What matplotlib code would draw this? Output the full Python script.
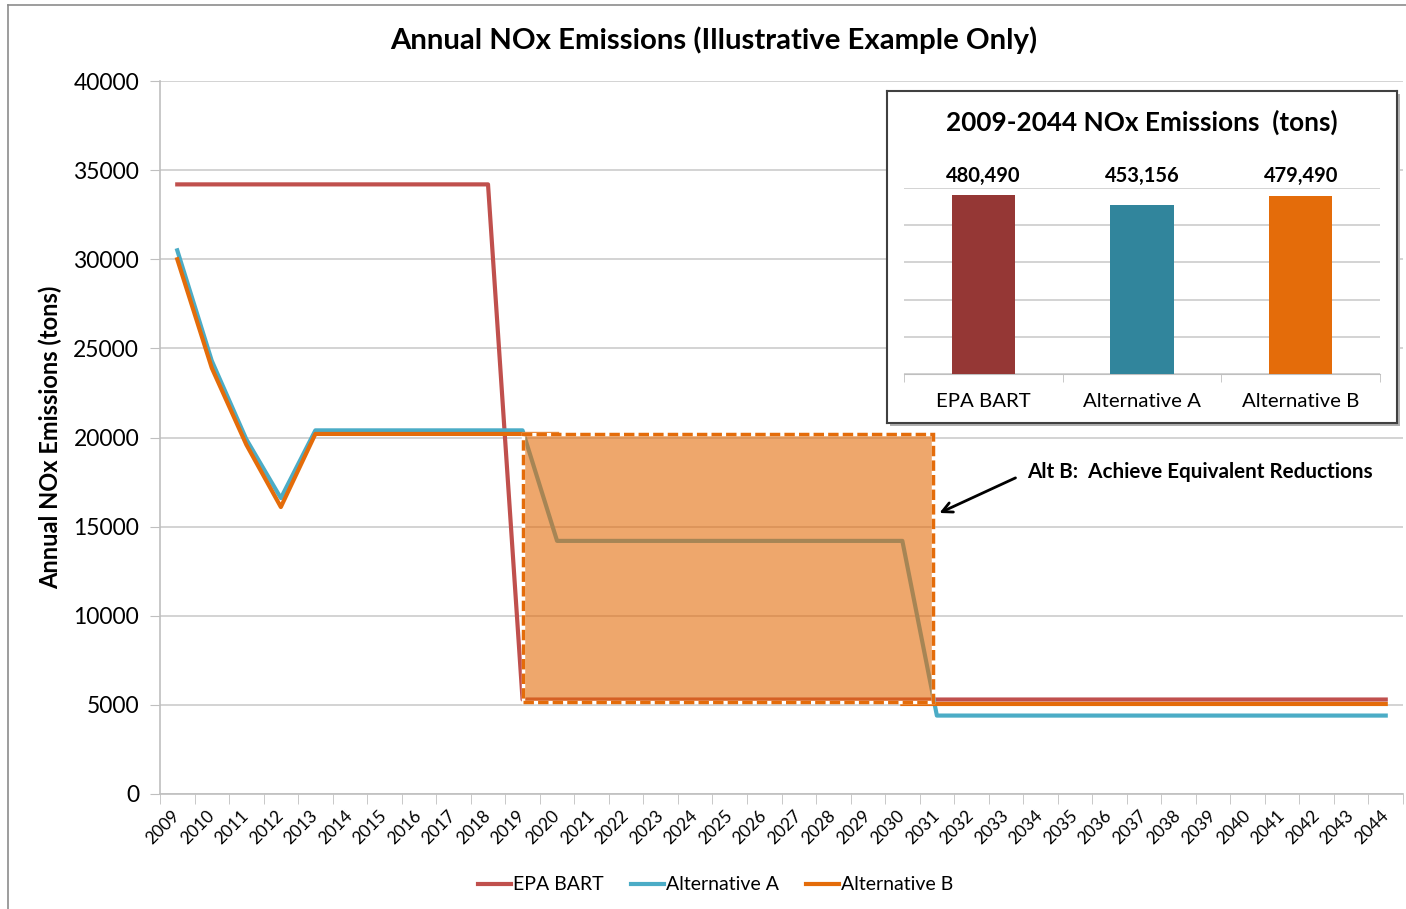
import numpy as np
import matplotlib
matplotlib.use("Agg")
import matplotlib.pyplot as plt
from matplotlib.patches import Rectangle
from matplotlib.lines import Line2D

plt.rcParams['font.family'] = ['Lato', 'DejaVu Sans']

# ---------------- data ----------------
years = [str(y) for y in range(2009, 2045)]

epa_bart = [34200, 34200, 34200, 34200, 34200, 34200, 34200, 34200, 34200, 34200,
            5300, 5300, 5300, 5300, 5300, 5300, 5300, 5300, 5300, 5300,
            5300, 5300, 5300, 5300, 5300, 5300, 5300, 5300, 5300, 5300,
            5300, 5300, 5300, 5300, 5300, 5300]

alt_a = [30500, 24300, 19900, 16600,
         20400, 20400, 20400, 20400, 20400, 20400, 20400,
         14200, 14200, 14200, 14200, 14200, 14200, 14200, 14200, 14200, 14200, 14200,
         4400, 4400, 4400, 4400, 4400, 4400, 4400, 4400, 4400, 4400, 4400, 4400, 4400, 4400]

nan = np.nan
alt_b = [30000, 23900, 19600, 16100,
         20200, 20200, 20200, 20200, 20200, 20200, 20200, 20200,
         nan, nan, nan, nan, nan, nan, nan, nan, nan,
         5050,
         5050, 5050, 5050, 5050, 5050, 5050, 5050, 5050, 5050, 5050, 5050, 5050, 5050, 5050]

series_names = ["EPA BART", "Alternative A", "Alternative B"]
line_colors = ["#C0504D", "#4BACC6", "#E46C0A"]

total_labels = ["EPA BART", "Alternative A", "Alternative B"]
total_values = [480490, 453156, 479490]
bar_colors = ["#953735", "#31859C", "#E46C0A"]

# ---------------- figure ----------------
W, H = 1406, 909
fig = plt.figure(figsize=(W / 100, H / 100), dpi=100)

def fx(px):
    return px / W

def fy(py):
    return 1 - py / H

# chart-area border (left and top visible)
fig.add_artist(Line2D([fx(8), fx(8)], [0, fy(5)], color="#8c8c8c", lw=1.2))
fig.add_artist(Line2D([fx(8), 1], [fy(5), fy(5)], color="#8c8c8c", lw=1.2))

ax = fig.add_axes([fx(160), fy(794), fx(1403) - fx(160), fy(81) - fy(794)])
x = np.arange(len(years))

for vals, name, col in zip([epa_bart, alt_a, alt_b], series_names, line_colors):
    ax.plot(x, vals, color=col, lw=3, label=name, zorder=3, solid_joinstyle='round')

# highlighted rectangle
rx0, rx1, ry0, ry1 = 10, 21.88, 5150, 20200
ax.add_patch(Rectangle((rx0, ry0), rx1 - rx0, ry1 - ry0, facecolor="#E46C0A",
                       alpha=0.6, edgecolor="none", zorder=4))
ax.add_patch(Rectangle((rx0, ry0), rx1 - rx0, ry1 - ry0, facecolor="none",
                       edgecolor="white", lw=2.5, zorder=5))
ax.add_patch(Rectangle((rx0, ry0), rx1 - rx0, ry1 - ry0, facecolor="none",
                       edgecolor="#E46C0A", lw=2.5, linestyle=(0, (3, 1.2)), zorder=6))

ax.set_xlim(-0.5, len(years) - 0.5)
ax.set_ylim(0, 40000)
ax.set_yticks(np.arange(0, 40001, 5000))
ax.tick_params(axis='y', labelsize=16.5, length=7, color="#bfbfbf", pad=8)
ax.grid(axis='y', color="#c8c8c8", lw=1.1, zorder=0)
ax.set_axisbelow(True)

ax.set_xticks(x)
ax.set_xticklabels(years, rotation=45, rotation_mode='anchor', ha='right', va='center',
                   fontsize=12.5)
ax.tick_params(axis='x', length=0, pad=14)
ax.set_xticks(np.arange(-0.5, len(years), 1), minor=True)
ax.tick_params(axis='x', which='minor', length=7, color="#bfbfbf")

for s in ["top", "right"]:
    ax.spines[s].set_visible(False)
for s in ["left", "bottom"]:
    ax.spines[s].set_color("#bfbfbf")
    ax.spines[s].set_linewidth(1.2)

ax.set_ylabel("Annual NOx Emissions (tons)", fontsize=17, fontweight='bold', labelpad=8)

fig.text(fx(714), fy(40), "Annual NOx Emissions (Illustrative Example Only)",
         ha='center', va='center', fontsize=21.2, fontweight='bold')

# annotation
ax.annotate("", xy=(22.0, 15700), xytext=(24.35, 17800),
            arrowprops=dict(arrowstyle='->', color='black', lw=2, mutation_scale=18),
            zorder=7)
fig.text(fx(1027), fy(472), "Alt B:  Achieve Equivalent Reductions", ha='left', va='center',
         fontsize=14.9, fontweight='bold')

# legend
fig.legend(loc='center', bbox_to_anchor=(fx(716), fy(885)), ncol=3, frameon=False,
           fontsize=14, handlelength=1.7, handletextpad=0.1, columnspacing=1.4)

# ---------------- inset ----------------
fig.add_artist(Rectangle((fx(890), fy(426)), fx(1400) - fx(890), fy(94) - fy(426),
                         transform=fig.transFigure, facecolor="#b0b0b0", edgecolor="none",
                         zorder=1.5))
axf = fig.add_axes([fx(887), fy(423), fx(1397) - fx(887), fy(91) - fy(423)], zorder=2)
axf.set_xticks([])
axf.set_yticks([])
axf.set_facecolor("white")
for s in axf.spines.values():
    s.set_color("#404040")
    s.set_linewidth(1.5)
axf.text(0.5, (423 - 122) / (423 - 91), "2009-2044 NOx Emissions  (tons)", ha='center',
         va='center', fontsize=18.8, fontweight='bold', transform=axf.transAxes)

axi = fig.add_axes([fx(904), fy(374), fx(1380) - fx(904), fy(188) - fy(374)], zorder=3)
axi.set_facecolor("none")
xb = np.arange(len(total_values))
axi.bar(xb, total_values, width=0.4, color=bar_colors, zorder=3)
axi.set_xlim(-0.5, len(total_values) - 0.5)
axi.set_ylim(0, 500000)
axi.set_yticks(np.arange(0, 500001, 100000))
axi.tick_params(axis='y', length=0, labelleft=False)
axi.grid(axis='y', color="#c8c8c8", lw=1.1, zorder=0)
axi.set_axisbelow(True)
axi.set_xticks(xb)
axi.set_xticklabels(total_labels, fontsize=14.7)
axi.tick_params(axis='x', length=0, pad=14)
axi.set_xticks(np.arange(-0.5, len(total_values), 1), minor=True)
axi.tick_params(axis='x', which='minor', length=6, color="#bfbfbf")
for s in ["top", "right", "left"]:
    axi.spines[s].set_visible(False)
axi.spines["bottom"].set_color("#bfbfbf")
label_y = 500000 * (1 + (188 - 176) / (374 - 188))
for xi, v in zip(xb, total_values):
    axi.text(xi, label_y, f"{v:,}", ha='center', va='center', fontsize=14.5,
             fontweight='bold', clip_on=False)

fig.savefig("out.png", dpi=100)
